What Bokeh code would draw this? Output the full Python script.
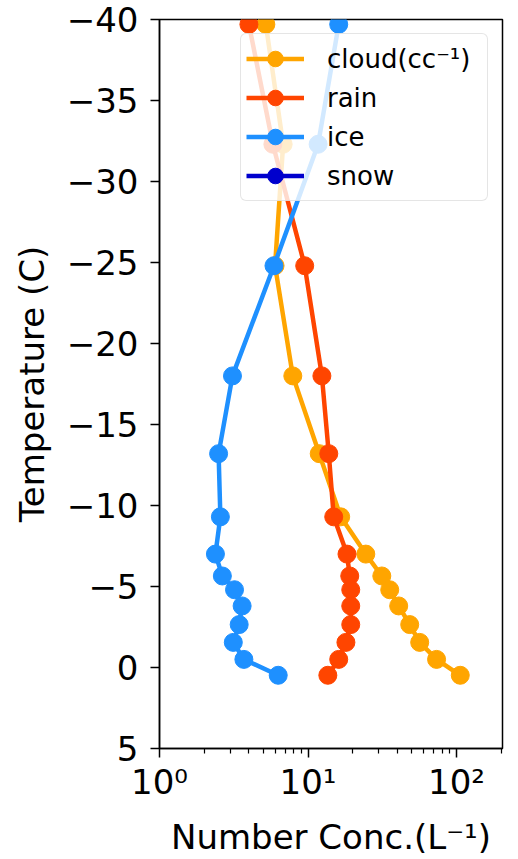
from bokeh.plotting import figure
from bokeh.models import (ColumnDataSource, Range1d, FixedTicker, Legend, LegendItem,
                          CustomJSTickFormatter)
from bokeh.embed import file_html
from bokeh.resources import INLINE

nan = float("nan")

# ---- data ----
temps = [-39.7, -32.3, -24.8, -18.0, -13.2, -9.3, -7.0, -5.65, -4.8, -3.8, -2.65, -1.55, -0.5, 0.48]
cloud = [5.2, 6.8, 6.0, 7.9, 11.9, 16.6, 24.5, 31.4, 35.5, 40.8, 48.4, 56.5, 73.4, 106.0]
rain = [4.0, 5.8, 9.5, 12.4, 13.8, 14.9, 18.3, 19.1, 19.4, 19.4, 19.4, 18.0, 16.1, 13.6]
ice = [16.1, 11.7, 5.9, 3.1, 2.5, 2.57, 2.38, 2.65, 3.2, 3.6, 3.44, 3.14, 3.7, 6.3]
# snow has no visible (positive) values on the log axis
snow = [nan, nan, nan, nan, nan, nan, nan, nan, nan, nan, nan, nan, nan, nan]

series_names = ["cloud(cc\u207b\u00b9)", "rain", "ice", "snow"]
colors = ["#FFA500", "#FF4500", "#1E90FF", "#0000CD"]

y_ticks = [-40, -35, -30, -25, -20, -15, -10, -5, 0, 5]
x_ticks = [1, 10, 100]
x_minor = [2, 3, 4, 5, 6, 7, 8, 9, 20, 30, 40, 50, 60, 70, 80, 90, 200]
x_labels = {1: "10\u2070", 10: "10\u00b9", 100: "10\u00b2"}

FONT = "DejaVu Sans"

p = figure(width=518, height=859, x_axis_type="log",
           x_range=Range1d(1, 204), y_range=Range1d(5, -40),
           output_backend="svg", toolbar_location=None,
           min_border_left=159, min_border_right=16,
           min_border_top=19, min_border_bottom=107)

p.xgrid.visible = False
p.ygrid.visible = False
p.outline_line_color = "black"
p.outline_line_width = 1.5
p.outline_line_alpha = 1.0
p.background_fill_color = "white"
p.border_fill_color = "white"

items = []
data_sets = [cloud, rain, ice, snow]
for name, color, v in zip(series_names, colors, data_sets):
    src = ColumnDataSource(dict(x=v, y=temps))
    l = p.line("x", "y", source=src, line_color=color, line_width=4.5)
    s = p.scatter("x", "y", source=src, size=18, fill_color=color, line_color=color)
    items.append(LegendItem(label=name, renderers=[l, s]))

legend = Legend(items=items, location="top_right")
legend.margin = 14
legend.padding = 5
legend.spacing = 0
legend.glyph_width = 58
legend.glyph_height = 39
legend.label_standoff = 23
legend.label_width = 155
legend.label_text_font = FONT
legend.label_text_font_size = "26px"
legend.label_text_color = "black"
legend.background_fill_color = "white"
legend.background_fill_alpha = 0.8
legend.border_line_color = "#cccccc"
legend.border_line_width = 1.5
legend.border_radius = 6
p.add_layout(legend)

# axes
for ax in (p.xaxis[0], p.yaxis[0]):
    ax.axis_line_color = "black"
    ax.axis_line_width = 1.5
    ax.major_tick_line_color = "black"
    ax.major_tick_line_width = 1.5
    ax.minor_tick_line_color = "black"
    ax.minor_tick_line_width = 1.2
    ax.major_tick_in = 0
    ax.minor_tick_in = 0
    ax.major_tick_out = 9
    ax.minor_tick_out = 5
    ax.major_label_text_font = FONT
    ax.major_label_text_font_size = "34px"
    ax.major_label_text_color = "black"
    ax.axis_label_text_font = FONT
    ax.axis_label_text_font_size = "34px"
    ax.axis_label_text_font_style = "normal"
    ax.axis_label_text_color = "black"

p.xaxis.ticker = FixedTicker(ticks=x_ticks, minor_ticks=x_minor)
p.xaxis.major_label_overrides = x_labels
p.xaxis.major_label_standoff = 4
p.xaxis.axis_label = "Number Conc.(L\u207b\u00b9)"
p.xaxis.axis_label_standoff = 12

p.yaxis.ticker = FixedTicker(ticks=y_ticks, minor_ticks=[])
p.yaxis.formatter = CustomJSTickFormatter(
    code="return (tick < 0 ? '\\u2212' : '') + Math.abs(tick).toString();")
p.yaxis.major_label_standoff = 12
p.yaxis.axis_label = "Temperature (C)"
p.yaxis.axis_label_standoff = 12

open("out.html", "w").write(file_html(p, INLINE))
